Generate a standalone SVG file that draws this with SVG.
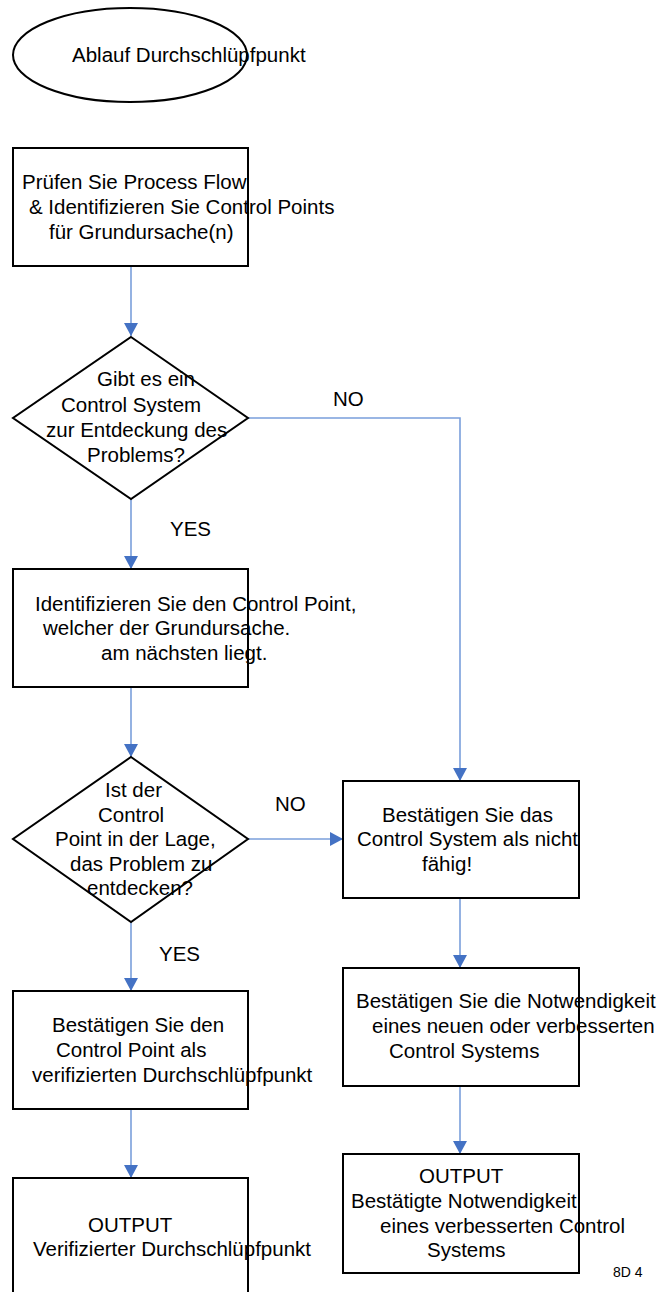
<svg xmlns="http://www.w3.org/2000/svg" width="661" height="1292" viewBox="0 0 661 1292">
  <style>
    .shape { fill: #ffffff; stroke: #000000; stroke-width: 2; }
    .conn { fill: none; stroke: #7A9FDB; stroke-width: 1.6; }
    text { font-family: "Liberation Sans", Arial, sans-serif; font-size: 20.5px; fill: #000000; }
    .small { font-size: 14px; }
  </style>
  <defs>
    <marker id="arrow" markerUnits="userSpaceOnUse" markerWidth="14" markerHeight="14" refX="13" refY="7" orient="auto">
      <path d="M0,0 L13,7 L0,14 Z" fill="#4472C4"/>
    </marker>
  </defs>

  <!-- start terminator -->
  <g id="start">
    <ellipse class="shape" cx="130" cy="55" rx="117" ry="47"/>
    <text x="72" y="62">Ablauf Durchschlüpfpunkt</text>
  </g>

  <!-- connectors -->
  <g id="connectors">
    <path class="conn" d="M131,266 V336" marker-end="url(#arrow)"/>
    <path class="conn" d="M131,499 V569" marker-end="url(#arrow)"/>
    <path class="conn" d="M131,687 V757" marker-end="url(#arrow)"/>
    <path class="conn" d="M131,922 V991" marker-end="url(#arrow)"/>
    <path class="conn" d="M131,1109 V1178" marker-end="url(#arrow)"/>
    <path class="conn" d="M248,418 H460 V781" marker-end="url(#arrow)"/>
    <path class="conn" d="M248,839 H343" marker-end="url(#arrow)"/>
    <path class="conn" d="M460,898 V968" marker-end="url(#arrow)"/>
    <path class="conn" d="M460,1086 V1154" marker-end="url(#arrow)"/>
  </g>

  <!-- branch labels -->
  <g id="labels">
    <text x="333" y="406">NO</text>
    <text x="170" y="536">YES</text>
    <text x="275" y="811">NO</text>
    <text x="159" y="961">YES</text>
  </g>

  <g id="review">
    <rect class="shape" x="13" y="148" width="235" height="118"/>
    <text x="22" y="189">Prüfen Sie Process Flow</text>
    <text x="29" y="214">&amp; Identifizieren Sie Control Points</text>
    <text x="49" y="239">für Grundursache(n)</text>
  </g>

  <g id="decision-system">
    <polygon class="shape" points="131,337 248,418 131,499 13,418"/>
    <text x="97" y="386">Gibt es ein</text>
    <text x="61" y="412">Control System</text>
    <text x="46" y="437">zur Entdeckung des</text>
    <text x="87" y="462">Problems?</text>
  </g>

  <g id="identify-point">
    <rect class="shape" x="13" y="569" width="235" height="118"/>
    <text x="35" y="611">Identifizieren Sie den Control Point,</text>
    <text x="43" y="635">welcher der Grundursache.</text>
    <text x="101" y="660">am nächsten liegt.</text>
  </g>

  <g id="decision-point">
    <polygon class="shape" points="131,757 248,839 131,922 13,839"/>
    <text x="105" y="797">Ist der</text>
    <text x="98" y="822">Control</text>
    <text x="55" y="846">Point in der Lage,</text>
    <text x="70" y="871">das Problem zu</text>
    <text x="87" y="895">entdecken?</text>
  </g>

  <g id="confirm-point">
    <rect class="shape" x="13" y="991" width="235" height="118"/>
    <text x="52" y="1032">Bestätigen Sie den</text>
    <text x="56" y="1057">Control Point als</text>
    <text x="32" y="1082">verifizierten Durchschlüpfpunkt</text>
  </g>

  <g id="output-point">
    <rect class="shape" x="13" y="1178" width="235" height="130"/>
    <text x="88" y="1232">OUTPUT</text>
    <text x="33" y="1256">Verifizierter Durchschlüpfpunkt</text>
  </g>

  <g id="confirm-incapable">
    <rect class="shape" x="343" y="781" width="236" height="117"/>
    <text x="382" y="822">Bestätigen Sie das</text>
    <text x="357" y="846">Control System als nicht</text>
    <text x="422" y="871">fähig!</text>
  </g>

  <g id="confirm-need">
    <rect class="shape" x="343" y="968" width="236" height="118"/>
    <text x="356" y="1008">Bestätigen Sie die Notwendigkeit</text>
    <text x="372" y="1033">eines neuen oder verbesserten</text>
    <text x="389" y="1058">Control Systems</text>
  </g>

  <g id="output-need">
    <rect class="shape" x="343" y="1154" width="236" height="119"/>
    <text x="419" y="1183">OUTPUT</text>
    <text x="351" y="1208">Bestätigte Notwendigkeit</text>
    <text x="380" y="1233">eines verbesserten Control</text>
    <text x="427" y="1257">Systems</text>
  </g>

  <text class="small" x="613" y="1277">8D 4</text>
</svg>
